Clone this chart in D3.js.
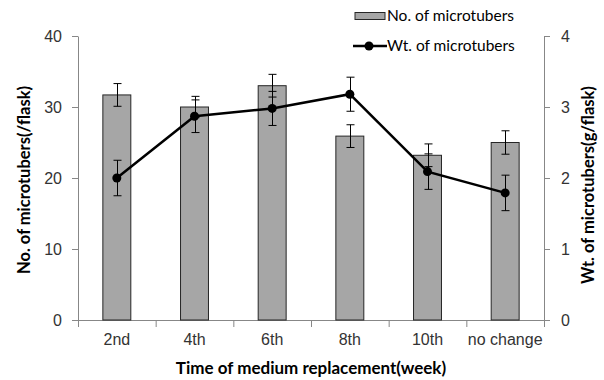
<!DOCTYPE html>
<html>
<head>
<meta charset="utf-8">
<script src="https://cdn.jsdelivr.net/npm/d3@7"></script>
<style>
  body { margin: 0; background: #fff; }
  svg { display: block; font-family: Lato, "Open Sans", sans-serif; }
  .axis path, .axis line { stroke: #878787; }
  .axis text { fill: #333; font-size: 16px; }
</style>
</head>
<body>
<svg width="604" height="380"></svg>
<script>
const categories = ["2nd", "4th", "6th", "8th", "10th", "no change"];
const numMean = [31.7, 30.0, 33.0, 25.9, 23.2, 25.0];
const numErr = [1.6, 1.5, 1.6, 1.6, 1.6, 1.65];
const wtMean = [2.0, 2.87, 2.98, 3.18, 2.09, 1.79];
const wtErr = [0.25, 0.23, 0.24, 0.24, 0.25, 0.25];
const leftTicks = [0, 10, 20, 30, 40];
const rightTicks = [0, 1, 2, 3, 4];

const plotLeft = 78, plotRight = 544, plotTop = 36, plotBottom = 320;

const svg = d3.select("svg");

const x = d3.scaleBand()
  .domain(categories)
  .range([plotLeft, plotRight]);

const yNum = d3.scaleLinear()
  .domain([0, 40])
  .range([plotBottom, plotTop]);

const yWt = d3.scaleLinear()
  .domain([0, 4])
  .range([plotBottom, plotTop]);

const barW = x.bandwidth() * 0.36;
const cx = d => x(d) + x.bandwidth() / 2;

// axes
svg.append("g")
    .attr("class", "axis")
    .attr("transform", `translate(${plotLeft},0)`)
    .call(d3.axisLeft(yNum).tickValues(leftTicks).tickSize(6).tickSizeOuter(0).tickPadding(10));

svg.append("g")
    .attr("class", "axis")
    .attr("transform", `translate(${plotRight},0)`)
    .call(d3.axisRight(yWt).tickValues(rightTicks).tickFormat(d3.format("d"))
      .tickSize(6).tickSizeOuter(0).tickPadding(11));

// x boundaries ticks
const xEdges = d3.scaleLinear().domain([0, categories.length]).range([plotLeft, plotRight]);
svg.append("g")
    .attr("class", "axis")
    .attr("transform", `translate(0,${plotBottom})`)
    .call(d3.axisBottom(xEdges).ticks(categories.length).tickFormat("").tickSize(7).tickSizeOuter(0));

// x labels
svg.append("g")
    .attr("class", "axis")
    .attr("transform", `translate(0,${plotBottom})`)
    .call(d3.axisBottom(x).tickSize(0).tickPadding(14))
    .call(g => g.select(".domain").remove());

// bars
svg.append("g")
  .selectAll("rect")
  .data(categories)
  .enter()
  .append("rect")
    .attr("x", d => cx(d) - barW / 2)
    .attr("y", (d, i) => yNum(numMean[i]))
    .attr("width", barW)
    .attr("height", (d, i) => plotBottom - yNum(numMean[i]))
    .attr("fill", "#a6a6a6")
    .attr("stroke", "#262626")
    .attr("stroke-width", 1);

// error bars helper
function errorBars(scale, mean, err, cls) {
  const g = svg.append("g").attr("class", cls)
    .attr("stroke", "#000").attr("stroke-width", 1).attr("fill", "none");
  categories.forEach((c, i) => {
    const xc = Math.round(cx(c)) + 0.5;
    const y1 = scale(mean[i] + err[i]);
    const y2 = scale(mean[i] - err[i]);
    g.append("line").attr("x1", xc).attr("x2", xc).attr("y1", y1).attr("y2", y2);
    g.append("line").attr("x1", xc - 4).attr("x2", xc + 4).attr("y1", y1).attr("y2", y1);
    g.append("line").attr("x1", xc - 4).attr("x2", xc + 4).attr("y1", y2).attr("y2", y2);
  });
}

errorBars(yNum, numMean, numErr, "err-num");

// line
const line = d3.line()
  .x((d, i) => cx(categories[i]))
  .y(d => yWt(d));

svg.append("path")
  .datum(wtMean)
  .attr("d", line)
  .attr("fill", "none")
  .attr("stroke", "#000")
  .attr("stroke-width", 2.5);

errorBars(yWt, wtMean, wtErr, "err-wt");

svg.append("g")
  .selectAll("circle")
  .data(wtMean)
  .enter()
  .append("circle")
    .attr("cx", (d, i) => cx(categories[i]))
    .attr("cy", d => yWt(d))
    .attr("r", 4.5)
    .attr("fill", "#000");

// legend
const legend = svg.append("g").attr("font-size", 15.5).attr("fill", "#000");
legend.append("rect")
    .attr("x", 355).attr("y", 12.5).attr("width", 30).attr("height", 7)
    .attr("fill", "#a6a6a6").attr("stroke", "#262626");
legend.append("text")
    .attr("x", 387).attr("y", 21)
    .text("No. of microtubers");
legend.append("line")
    .attr("x1", 353).attr("x2", 387).attr("y1", 46).attr("y2", 46)
    .attr("stroke", "#000").attr("stroke-width", 2.5);
legend.append("circle")
    .attr("cx", 369).attr("cy", 46).attr("r", 4.5).attr("fill", "#000");
legend.append("text")
    .attr("x", 387).attr("y", 51)
    .text("Wt. of microtubers");

// titles
svg.append("text")
    .attr("x", 311)
    .attr("y", 374)
    .attr("text-anchor", "middle")
    .attr("font-weight", "bold")
    .attr("font-size", 17)
    .text("Time of medium replacement(week)");

svg.append("text")
    .attr("transform", "rotate(-90)")
    .attr("x", -180)
    .attr("y", 30)
    .attr("text-anchor", "middle")
    .attr("font-weight", "bold")
    .attr("font-size", 16.5)
    .text("No. of microtubers(/flask)");

svg.append("text")
    .attr("transform", "rotate(-90)")
    .attr("x", -185)
    .attr("y", 594)
    .attr("text-anchor", "middle")
    .attr("font-weight", "bold")
    .attr("font-size", 16.5)
    .text("Wt. of microtubers(g/flask)");
</script>
</body>
</html>
